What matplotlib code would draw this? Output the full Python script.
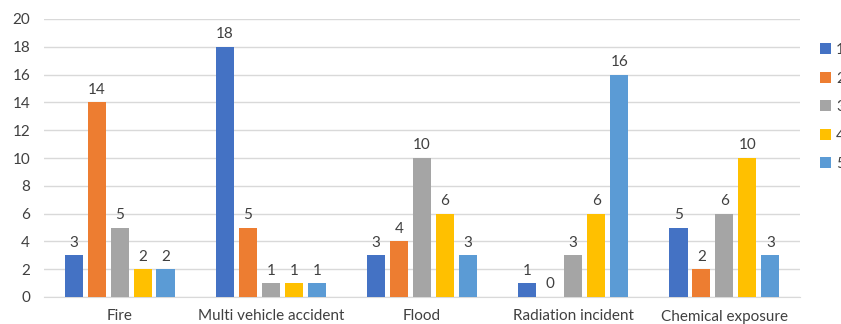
import matplotlib.pyplot as plt
import numpy as np

categories = ["Fire", "Multi vehicle accident", "Flood", "Radiation incident", "Chemical exposure"]
series_names = ["1", "2", "3", "4", "5"]
s1 = [3, 18, 3, 1, 5]
s2 = [14, 5, 4, 0, 2]
s3 = [5, 1, 10, 3, 6]
s4 = [2, 1, 6, 6, 10]
s5 = [2, 1, 3, 16, 3]
series = [s1, s2, s3, s4, s5]
colors = ["#4472C4", "#ED7D31", "#A5A5A5", "#FFC000", "#5B9BD5"]

plt.rcParams["font.family"] = ["Lato", "DejaVu Sans"]

fig = plt.figure(figsize=(8.41, 3.24), dpi=100)
ax = fig.add_axes([44 / 841, 1 - 297 / 324, 756 / 841, 278 / 324])

x = np.arange(len(categories))
step = 0.152
width = 0.12
for i, (name, vals) in enumerate(zip(series_names, series)):
    pos = x + (i - 2) * step
    bars = ax.bar(pos, vals, width, color=colors[i], label=name, zorder=3)
    for b, v in zip(bars, vals):
        ax.text(b.get_x() + b.get_width() / 2, v + 0.4, str(v),
                ha="center", va="bottom", fontsize=11, color="#404040")

ax.set_xlim(-0.5, len(categories) - 0.5)
ax.set_ylim(0, 20)
ax.set_yticks(range(0, 21, 2))
ax.yaxis.grid(True, color="#D9D9D9", linewidth=1, zorder=0)
ax.set_xticks(x)
ax.set_xticklabels(categories)
ax.tick_params(axis="both", length=0, labelsize=11, labelcolor="#404040")
ax.tick_params(axis="y", pad=10)
ax.tick_params(axis="x", pad=9)
for s in ["top", "right", "left"]:
    ax.spines[s].set_visible(False)
ax.spines["bottom"].set_color("#D9D9D9")

# legend sits at the right edge, partly clipped like the source image
fig.legend(loc="upper left", bbox_to_anchor=(820 / 841, 1 - 43 / 324),
           frameon=False, fontsize=11, handlelength=0.7, handleheight=0.7,
           handletextpad=0.35, labelspacing=0.95, borderaxespad=0, borderpad=0,
           labelcolor="#404040")

fig.savefig("out.png", dpi=100)
